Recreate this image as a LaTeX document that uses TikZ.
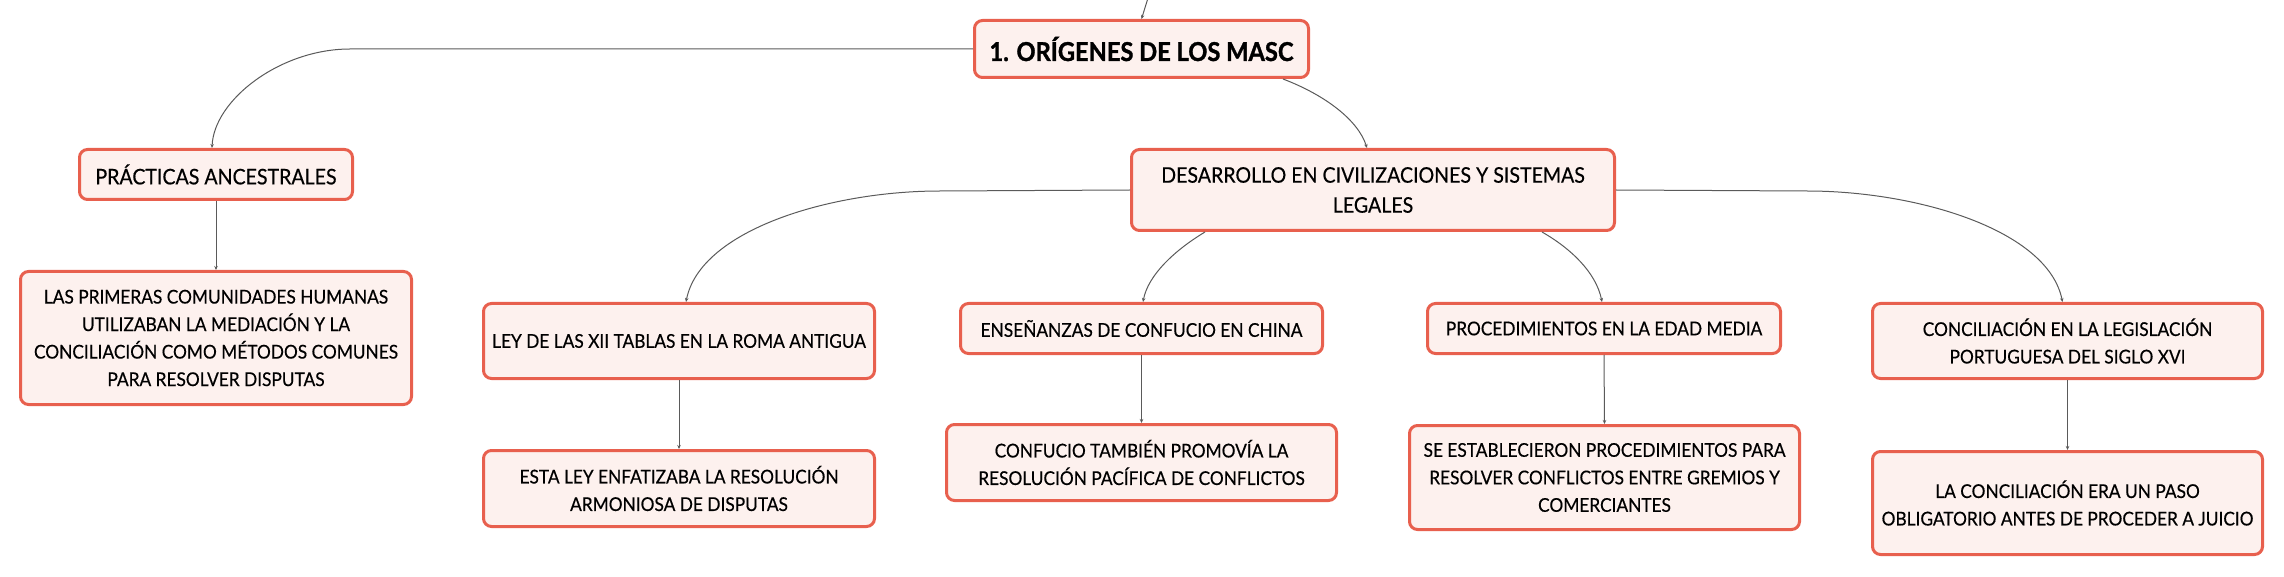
\documentclass[tikz,border=0pt]{standalone}
\usepackage{fontspec}
\setmainfont{Lato}[FakeStretch=0.91, UprightFeatures={FakeBold=0.4}, BoldFeatures={FakeBold=1.2}]
\usetikzlibrary{arrows.meta}
\definecolor{boxborder}{HTML}{E8604E}
\definecolor{boxfill}{HTML}{FDF1EE}
\definecolor{linkcol}{HTML}{5A5A5A}
\begin{document}
\begin{tikzpicture}[x=1pt,y=-1pt,
  topic/.style={draw=boxborder, fill=boxfill, line width=3pt, rounded corners=8pt,
    inner sep=0pt, align=center, font=\fontsize{19}{27.5}\selectfont},
  maintopic/.style={topic, font=\fontsize{21.5}{30}\selectfont},
  roottopic/.style={topic, font=\fontsize{26}{30}\selectfont\bfseries},
  link/.style={draw=linkcol, line width=1pt, -{Stealth[length=4pt,width=3.5pt]}}
]
\useasboundingbox (0,0) rectangle (2284,577);

% nodes (centres, sizes from the reference)
\node[roottopic, minimum width=334pt, minimum height=57pt] (root) at (1141.5,49) {1. ORÍGENES DE LOS MASC};
\node[maintopic, minimum width=273pt, minimum height=50pt] (prac) at (216,174.5) {PRÁCTICAS ANCESTRALES};
\node[topic, minimum width=391pt, minimum height=133pt] (leafa) at (216,338)
  {LAS PRIMERAS COMUNIDADES HUMANAS\\UTILIZABAN LA MEDIACIÓN Y LA\\CONCILIACIÓN COMO MÉTODOS COMUNES\\PARA RESOLVER DISPUTAS};
\node[maintopic, minimum width=483pt, minimum height=81pt] (des) at (1373,190)
  {DESARROLLO EN CIVILIZACIONES Y SISTEMAS\\LEGALES};
\node[topic, minimum width=391pt, minimum height=75pt] (ley) at (679,341) {LEY DE LAS XII TABLAS EN LA ROMA ANTIGUA};
\node[topic, minimum width=391pt, minimum height=76pt] (esta) at (679,488.5)
  {ESTA LEY ENFATIZABA LA RESOLUCIÓN\\ARMONIOSA DE DISPUTAS};
\node[topic, minimum width=362pt, minimum height=50pt] (ens) at (1141.5,328.5) {ENSEÑANZAS DE CONFUCIO EN CHINA};
\node[topic, minimum width=390pt, minimum height=76pt] (conf) at (1141.5,462.5)
  {CONFUCIO TAMBIÉN PROMOVÍA LA\\RESOLUCIÓN PACÍFICA DE CONFLICTOS};
\node[topic, minimum width=353pt, minimum height=50pt] (proc) at (1604,328.5) {PROCEDIMIENTOS EN LA EDAD MEDIA};
\node[topic, minimum width=390pt, minimum height=104pt] (se) at (1604.5,477.5)
  {SE ESTABLECIERON PROCEDIMIENTOS PARA\\RESOLVER CONFLICTOS ENTRE GREMIOS Y\\COMERCIANTES};
\node[topic, minimum width=390pt, minimum height=75pt] (concil) at (2067.5,341)
  {CONCILIACIÓN EN LA LEGISLACIÓN\\PORTUGUESA DEL SIGLO XVI};
\node[topic, minimum width=390pt, minimum height=103pt] (lacon) at (2067.5,503)
  {LA CONCILIACIÓN ERA UN PASO\\OBLIGATORIO ANTES DE PROCEDER A JUICIO};

\coordinate (parent) at (1148,-2);

% connectors
\draw[link] (parent) -- (root.north);
\draw[link] (root.west) -- (350,49) .. controls (280,49) and (214,100) .. ([xshift=-4pt]prac.north);
\draw[link] ([xshift=141.5pt]root.south) .. controls (1325,95) and (1358,120) .. ([xshift=-6pt]des.north);
\draw[link] (des.west) -- (940,191) .. controls (830,191) and (700,230) .. ([xshift=7pt]ley.north);
\draw[link] ([xshift=-168pt]des.south) .. controls (1175,250) and (1148,275) .. ([xshift=1.5pt]ens.north);
\draw[link] ([xshift=169pt]des.south) .. controls (1570,248) and (1596,272) .. ([xshift=-2pt]proc.north);
\draw[link] (des.east) -- (1807,191) .. controls (1917,191) and (2048,230) .. ([xshift=-5pt]concil.north);

\draw[link] (prac.south) -- (leafa.north);
\draw[link] (ley.south) -- (esta.north);
\draw[link] (ens.south) -- (conf.north);
\draw[link] (proc.south) -- (se.north);
\draw[link] (concil.south) -- (lacon.north);
\end{tikzpicture}
\end{document}
